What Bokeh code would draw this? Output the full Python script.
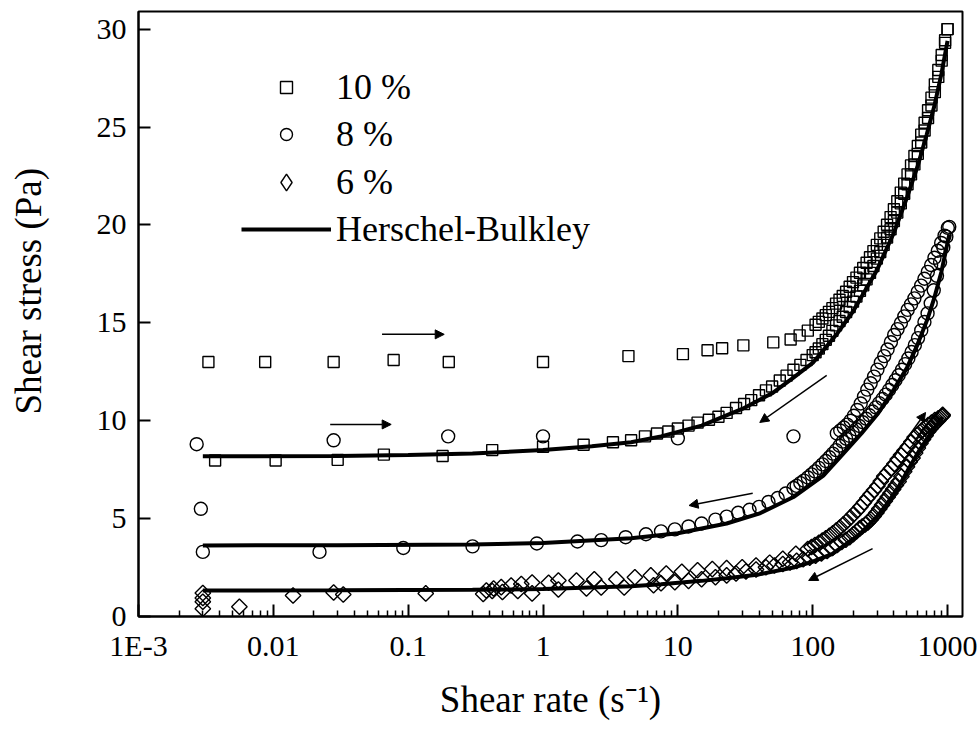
from bokeh.plotting import figure
from bokeh.models import Range1d, FixedTicker, Arrow, NormalHead, Legend, LegendItem, Title
from bokeh.embed import file_html
from bokeh.resources import INLINE
import math

# ---------------- data (shear rate [1/s], shear stress [Pa]) ----------------
up_10 = [(0.0033, 13.0), (0.0087, 13.0), (0.028, 13.0), (0.078, 13.1), (0.20, 13.0), (1.0, 13.0),
         (4.3, 13.3), (10.9, 13.4), (16.6, 13.6), (21.3, 13.7), (30.6, 13.85), (51, 14.0),
         (68.6, 14.15), (80, 14.36), (92, 14.6), (105, 14.9), (111, 15.05), (118, 15.22),
         (125, 15.39), (132, 15.56), (140, 15.75), (149, 15.98), (158, 16.18), (167, 16.37),
         (177, 16.59), (188, 16.84), (199, 17.08), (211, 17.31), (224, 17.56), (237, 17.8),
         (251, 18.07), (266, 18.35), (282, 18.66), (299, 18.98), (317, 19.31), (336, 19.65),
         (356, 20.01), (378, 20.4), (400, 20.8), (424, 21.21), (450, 21.65), (477, 22.11),
         (505, 22.58), (536, 23.04), (568, 23.52), (602, 24.03), (638, 24.61), (676, 25.22),
         (717, 25.86), (760, 26.5), (805, 27.18), (854, 27.91), (905, 28.68), (959, 29.43),
         (1000, 30.0)]
down_10 = [(1000, 30.0), (959, 29.3), (905, 28.39), (854, 27.56), (805, 26.78), (760, 26.1),
           (717, 25.46), (676, 24.82), (638, 24.21), (602, 23.63), (568, 23.09), (536, 22.58),
           (505, 22.08), (477, 21.59), (450, 21.1), (424, 20.63), (400, 20.2), (378, 19.78),
           (356, 19.36), (336, 18.98), (317, 18.62), (299, 18.28), (282, 17.9), (266, 17.55),
           (251, 17.22), (237, 16.91), (224, 16.63), (211, 16.34), (199, 16.08), (188, 15.81),
           (177, 15.55), (167, 15.31), (158, 15.09), (149, 14.87), (140, 14.59), (132, 14.34),
           (125, 14.13), (118, 13.91), (111, 13.69), (105, 13.5), (100, 13.35), (90, 13.1),
           (81, 12.85), (72, 12.6), (64, 12.3), (57, 12.05), (50, 11.75), (45, 11.55),
           (40, 11.3), (35, 11.05), (31, 10.85), (27, 10.65), (23, 10.4), (20, 10.2),
           (17, 10.05), (14, 9.9), (12, 9.75), (10, 9.6), (8.5, 9.45), (7.0, 9.35), (5.7, 9.2),
           (4.5, 9.0), (3.3, 8.9), (2.0, 8.77), (1.0, 8.67), (0.42, 8.5), (0.18, 8.2),
           (0.066, 8.27), (0.030, 8.0), (0.0104, 7.97), (0.0037, 7.97)]

up_8 = [(0.0027, 8.8), (0.0029, 5.5), (0.028, 9.0), (0.198, 9.2), (1.0, 9.2), (10, 9.1),
        (72, 9.2), (151, 9.35), (160, 9.5), (170, 9.65), (180, 9.8), (191, 10.0),
        (202, 10.25), (214, 10.55), (227, 10.88), (240, 11.23), (254, 11.59), (269, 11.91),
        (285, 12.25), (302, 12.61), (320, 12.97), (339, 13.3), (359, 13.64), (380, 14.01),
        (402, 14.38), (426, 14.68), (451, 14.99), (478, 15.33), (506, 15.66), (536, 15.94),
        (568, 16.25), (601, 16.58), (637, 16.9), (674, 17.25), (714, 17.6), (756, 17.95),
        (800, 18.32), (847, 18.68), (897, 19.08), (950, 19.45), (1005, 19.85)]
down_8 = [(1030, 19.9), (980, 19.4), (930, 18.85), (880, 18.1), (835, 17.4), (790, 16.66),
          (750, 16.0), (711, 15.48), (674, 15.04), (638, 14.61), (604, 14.22), (572, 13.86),
          (541, 13.51), (512, 13.18), (485, 12.89), (459, 12.6), (434, 12.32), (411, 12.07),
          (389, 11.82), (368, 11.57), (348, 11.33), (329, 11.11), (311, 10.9), (294, 10.68),
          (278, 10.47), (263, 10.28), (249, 10.1), (235, 9.92), (222, 9.73), (210, 9.56),
          (198, 9.39), (187, 9.23), (177, 9.08), (167, 8.93), (158, 8.72), (149, 8.5),
          (141, 8.32), (133, 8.13), (125, 7.94), (118, 7.77), (111, 7.59), (104, 7.41),
          (98, 7.26), (92, 7.1), (86, 6.94), (81, 6.81), (76, 6.67), (72, 6.56), (63, 6.28),
          (55, 6.05), (47, 5.85), (40, 5.6), (34, 5.45), (28, 5.3), (23, 5.1), (19, 4.95),
          (15, 4.75), (12, 4.6), (9.5, 4.45), (7.5, 4.35), (5.8, 4.2), (4.1, 4.05), (2.7, 3.9),
          (1.8, 3.83), (0.9, 3.73), (0.30, 3.58), (0.092, 3.5), (0.022, 3.3), (0.003, 3.3)]

up_6 = [(0.003, 1.2), (0.003, 0.75), (0.003, 0.4), (0.0056, 0.5), (0.014, 1.07), (0.028, 1.23),
        (0.033, 1.12), (0.135, 1.18), (0.38, 1.33), (0.43, 1.43), (0.49, 1.5), (0.58, 1.58),
        (0.69, 1.66), (0.83, 1.74), (1.1, 1.72), (1.3, 1.84), (1.77, 1.84), (2.4, 1.9),
        (3.5, 1.9), (4.8, 2.0), (6.3, 2.1), (8.2, 2.2), (10.7, 2.28), (14, 2.36), (18, 2.42),
        (23, 2.47), (30, 2.52), (38, 2.6), (48, 2.75), (60, 2.95), (75, 3.2), (92, 3.45),
        (98, 3.55), (104, 3.65), (111, 3.76), (118, 3.88), (125, 3.99), (133, 4.12),
        (141, 4.25), (150, 4.4), (159, 4.55), (169, 4.71), (179, 4.87), (190, 5.05),
        (201, 5.22), (213, 5.4), (226, 5.6), (240, 5.82), (254, 6.04), (269, 6.24),
        (285, 6.45), (302, 6.67), (320, 6.91), (339, 7.16), (359, 7.36), (380, 7.56),
        (403, 7.79), (427, 8.03), (452, 8.25), (479, 8.46), (508, 8.68), (538, 8.91),
        (570, 9.15), (604, 9.31), (640, 9.48), (678, 9.65), (718, 9.78), (761, 9.91),
        (806, 10.03), (854, 10.12), (905, 10.22), (920, 10.25)]
down_6 = [(920, 10.3), (885, 10.15), (850, 10.0), (815, 9.9), (782, 9.75), (750, 9.6),
          (718, 9.45), (688, 9.25), (658, 9.05), (630, 8.85), (602, 8.6), (575, 8.35),
          (550, 8.1), (525, 7.9), (500, 7.65), (477, 7.4), (455, 7.15), (434, 6.9),
          (414, 6.7), (395, 6.5), (377, 6.3), (360, 6.1), (343, 5.9), (327, 5.7), (312, 5.5),
          (297, 5.3), (283, 5.12), (270, 4.95), (257, 4.8), (245, 4.7), (233, 4.6),
          (223, 4.5), (212, 4.35), (200, 4.2), (188, 4.05), (176, 3.92), (164, 3.8),
          (152, 3.65), (140, 3.5), (128, 3.35), (116, 3.22), (105, 3.1), (95, 3.0),
          (85, 2.92), (76, 2.84), (68, 2.76), (60, 2.68), (52, 2.6), (45, 2.52), (38, 2.4),
          (32, 2.3), (27, 2.2), (23, 2.1), (19, 2.0), (15, 1.9), (12, 1.82), (9.5, 1.75),
          (7.5, 1.7), (6.6, 1.6), (4.0, 1.48), (2.7, 1.48), (2.1, 1.43), (1.3, 1.38),
          (0.83, 1.18), (0.65, 1.3), (0.5, 1.25), (0.42, 1.3), (0.36, 1.15), (0.003, 0.95)]

fit_10 = [(0.003, 8.18), (0.03, 8.2), (0.1, 8.25), (0.3, 8.33), (1, 8.5), (2.3, 8.7), (4.5, 8.9),
          (7.5, 9.2), (15, 9.75), (30, 10.6), (50, 11.4), (72, 12.2), (100, 12.95), (150, 14.4),
          (200, 15.6), (300, 17.7), (400, 19.6), (500, 21.4), (600, 23.0), (700, 24.6),
          (800, 26.1), (900, 27.7), (1000, 29.4)]
fit_8 = [(0.003, 3.63), (0.03, 3.64), (0.3, 3.68), (1, 3.75), (4.5, 4.0), (10, 4.25), (23, 4.75),
         (40, 5.25), (72, 6.1), (120, 7.2), (168, 8.3), (230, 9.35), (307, 10.4), (400, 11.6),
         (500, 12.7), (600, 13.9), (711, 15.2), (800, 16.3), (900, 17.6), (1030, 19.5)]
fit_6 = [(0.003, 1.33), (0.03, 1.34), (0.3, 1.36), (1, 1.4), (4.5, 1.55), (7.5, 1.65),
         (15, 1.82), (23, 1.95), (40, 2.15), (72, 2.5), (100, 2.8), (140, 3.2), (223, 4.2),
         (300, 5.1), (360, 5.8), (440, 6.7), (520, 7.6), (620, 8.5), (750, 9.35), (840, 9.8),
         (920, 10.2)]

x_ticks = [0.001, 0.01, 0.1, 1, 10, 100, 1000]
x_tick_labels = ["1E-3", "0.01", "0.1", "1", "10", "100", "1000"]
y_ticks = [0, 5, 10, 15, 20, 25, 30]
series_labels = ["10 %", "8 %", "6 %", "Herschel-Bulkley"]
x_title = "Shear rate (s\u207b\u00b9)"
y_title = "Shear stress (Pa)"

# sweep-direction arrows: (start rate, start stress, end rate, end stress)
arrow_segments = [(0.064, 14.41, 0.185, 14.41),
                  (0.0264, 9.81, 0.0748, 9.81),
                  (127, 12.31, 40.5, 9.91),
                  (35.9, 6.29, 12.1, 5.67),
                  (398, 8.12, 687, 10.42),
                  (278, 3.47, 93.3, 1.84)]

FONT = "Liberation Serif"


def xs(pts):
    return [a for a, b in pts]


def ys(pts):
    return [b for a, b in pts]


p = figure(width=980, height=731, x_axis_type="log",
           x_range=Range1d(1e-3, 1291), y_range=Range1d(0, 30.9),
           output_backend="svg", toolbar_location=None,
           min_border_left=137, min_border_right=18, min_border_top=11, min_border_bottom=115,
           background_fill_color="white", border_fill_color="white")

p.xgrid.visible = False
p.ygrid.visible = False
p.outline_line_color = "black"
p.outline_line_width = 2
p.outline_line_alpha = 1.0

mk = dict(fill_color=None, line_color="black", line_width=1.4)
r10 = p.scatter(xs(up_10), ys(up_10), marker="square", size=11, **mk)
p.scatter(xs(down_10), ys(down_10), marker="square", size=11, **mk)
r8 = p.scatter(xs(up_8), ys(up_8), marker="circle", size=13, **mk)
p.scatter(xs(down_8), ys(down_8), marker="circle", size=13, **mk)
p.scatter(xs(up_6), ys(up_6), marker="square", angle=math.pi / 4, size=11, **mk)
p.scatter(xs(down_6), ys(down_6), marker="square", angle=math.pi / 4, size=11, **mk)
# swatch-only glyph for the 6 % legend entry (a single undefined point, never drawn in the plot)
r6_key = p.scatter([float("nan")], [float("nan")], marker="diamond", size=16, **mk)

rfit = p.line(xs(fit_10), ys(fit_10), line_width=4, line_color="black")
p.line(xs(fit_8), ys(fit_8), line_width=4, line_color="black")
p.line(xs(fit_6), ys(fit_6), line_width=4, line_color="black")

for x0, y0, x1, y1 in arrow_segments:
    p.add_layout(Arrow(end=NormalHead(size=9, fill_color="black", line_color="black", line_width=1),
                       x_start=x0, y_start=y0, x_end=x1, y_end=y1,
                       line_color="black", line_width=1.5))

leg_style = dict(orientation="vertical", glyph_width=90, label_width=20,
                 label_standoff=5, spacing=5, padding=0, margin=0,
                 border_line_color=None, background_fill_alpha=0,
                 label_text_font=FONT, label_text_font_size="36px", label_text_color="black")
legend_a = Legend(items=[LegendItem(label=series_labels[0], renderers=[r10]),
                         LegendItem(label=series_labels[1], renderers=[r8])],
                  location=(103, 461), glyph_height=30, label_height=42, **leg_style)
legend_b = Legend(items=[LegendItem(label=series_labels[2], renderers=[r6_key]),
                         LegendItem(label=series_labels[3], renderers=[rfit])],
                  location=(103, 366), glyph_height=42, label_height=42, **leg_style)
p.add_layout(legend_a)
p.add_layout(legend_b)

minor_x = [k * 10.0 ** d for d in range(-3, 3) for k in range(2, 10)]
p.xaxis.ticker = FixedTicker(ticks=x_ticks, minor_ticks=minor_x)
p.xaxis.major_label_overrides = dict(zip(x_ticks, x_tick_labels))
p.yaxis.ticker = FixedTicker(ticks=y_ticks, minor_ticks=[])

for ax in (p.xaxis, p.yaxis):
    ax.axis_line_color = "black"
    ax.axis_line_width = 2
    ax.major_tick_in = 12
    ax.major_tick_out = 0
    ax.major_tick_line_width = 2
    ax.major_tick_line_color = "black"
    ax.minor_tick_line_color = "black"
    ax.minor_tick_line_width = 1.5
    ax.major_label_text_font = FONT
    ax.major_label_text_font_size = "30px"
    ax.major_label_text_color = "black"
    ax.axis_label_text_font = FONT
    ax.axis_label_text_font_size = "37px"
    ax.axis_label_text_font_style = "normal"
    ax.axis_label_text_color = "black"

p.xaxis.minor_tick_in = 6
p.xaxis.minor_tick_out = 0
p.yaxis.minor_tick_in = 0
p.yaxis.minor_tick_out = 0
p.xaxis.major_label_standoff = 12
p.yaxis.major_label_standoff = 12
p.xaxis.axis_label = x_title
p.xaxis.axis_label_standoff = 14
# blank, tiny y-axis label only reserves a gap between tick labels and the side title
p.yaxis.axis_label = " "
p.yaxis.axis_label_text_font_size = "1px"
p.yaxis.axis_label_standoff = 36

# y title as a side title, anchored at its lower end so it sits where the original does
p.add_layout(Title(text=y_title, align="left", offset=202, standoff=10,
                   text_font=FONT, text_font_size="37px", text_font_style="normal",
                   text_color="black"), "left")

open("out.html", "w").write(file_html(p, INLINE))
